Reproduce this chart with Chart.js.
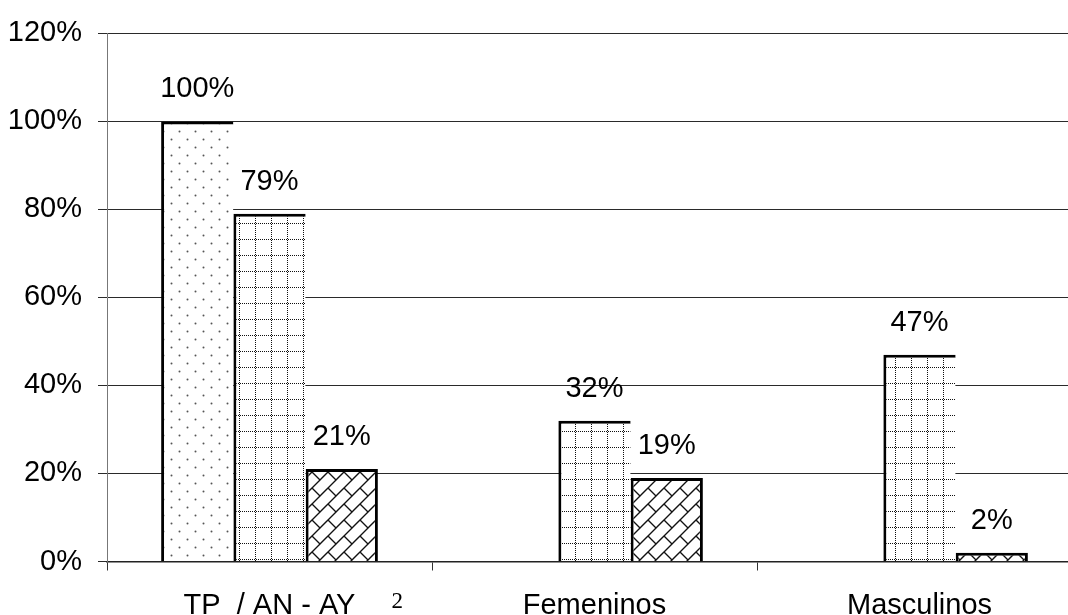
<!DOCTYPE html>
<html><head><meta charset="utf-8">
<script src="https://cdn.jsdelivr.net/npm/chart.js@4/dist/chart.umd.min.js"></script>
<style>html,body{margin:0;padding:0;background:#fff;overflow:hidden;width:1068px;height:615px}canvas{display:block}</style>
</head><body>
<canvas id="c" width="1083" height="615"></canvas>
<script>
const categories = ['TP  / AN - AY', 'Femeninos', 'Masculinos'];
const footnoteMark = '2';
const seriesNames = ['Serie 1', 'Serie 2', 'Serie 3'];
const seriesDotted = [100, null, null];
const seriesGrid = [79, 32, 47];
const seriesBrick = [21, 19, 2];
const yMin = 0, yMax = 120, yStep = 20;

const FONT = '"Liberation Sans", Arial, sans-serif';
const FSIZE = 29;

function makeTile(draw) {
  const c = document.createElement('canvas');
  c.width = 16; c.height = 16;
  const g = c.getContext('2d');
  g.fillStyle = '#fff'; g.fillRect(0, 0, 16, 16);
  draw(g);
  return document.getElementById('c').getContext('2d').createPattern(c, 'repeat');
}
const dotted = makeTile(g => {
  g.fillStyle = '#555';
  [[3.5, 3.5], [11.5, 11.5]].forEach(([x, y]) => { g.beginPath(); g.arc(x, y, 1.0, 0, Math.PI * 2); g.fill(); });
});
const gridPat = makeTile(g => {
  g.fillStyle = '#111';
  for (let i = 0; i < 16; i += 2) { g.fillRect(i, 15, 1, 1); g.fillRect(15, i, 1, 1); }
});
const brick = makeTile(g => {
  g.strokeStyle = '#111'; g.lineWidth = 1.4;
  g.beginPath();
  g.moveTo(-2, 18); g.lineTo(18, -2);
  g.moveTo(8, 8); g.lineTo(18, 18);
  g.moveTo(-2, -2); g.lineTo(0.5, 0.5);
  g.stroke();
});

const valueLabels = {
  id: 'valueLabels',
  afterDatasetsDraw(chart) {
    const ctx = chart.ctx; ctx.save();
    ctx.font = FSIZE + 'px ' + FONT; ctx.fillStyle = '#000';
    ctx.textAlign = 'center'; ctx.textBaseline = 'alphabetic';
    chart.data.datasets.forEach((ds, i) => {
      chart.getDatasetMeta(i).data.forEach((el, j) => {
        const v = ds.data[j];
        if (v == null) return;
        ctx.fillText(v + '%', el.x, el.y - 24);
      });
    });
    ctx.restore();
  }
};
const footnote = {
  id: 'footnote',
  afterDraw(chart) {
    const xs = chart.scales.x, ctx = chart.ctx; ctx.save();
    ctx.font = FSIZE + 'px ' + FONT;
    const w = ctx.measureText(categories[0]).width;
    ctx.font = '23px "Liberation Serif", "Times New Roman", serif';
    ctx.fillStyle = '#000'; ctx.textAlign = 'left'; ctx.textBaseline = 'alphabetic';
    ctx.fillText(footnoteMark, xs.getPixelForValue(0) + w / 2 + 36, xs.top + 46.5);
    ctx.restore();
  }
};

const edge = 3;
new Chart(document.getElementById('c'), {
  type: 'bar',
  data: {
    labels: categories,
    datasets: [
      { label: seriesNames[0], data: seriesDotted, backgroundColor: dotted, borderColor: '#000', borderWidth: { top: edge, left: edge, right: 0, bottom: 0 } },
      { label: seriesNames[1], data: seriesGrid, backgroundColor: gridPat, borderColor: '#000', borderWidth: { top: edge, left: edge, right: 0, bottom: 0 } },
      { label: seriesNames[2], data: seriesBrick, backgroundColor: brick, borderColor: '#000', borderWidth: { top: edge, left: edge, right: edge, bottom: 0 } }
    ]
  },
  options: {
    responsive: false,
    animation: false,
    devicePixelRatio: 1,
    layout: { padding: { top: 30, right: 1, left: 0, bottom: 0 } },
    datasets: { bar: { barPercentage: 1, categoryPercentage: 0.667 } },
    plugins: { legend: { display: false }, tooltip: { enabled: false } },
    scales: {
      x: {
        grid: { drawOnChartArea: false, drawTicks: true, tickLength: 9, color: '#333', offset: true },
        border: { color: '#222', width: 1.5 },
        ticks: { color: '#000', font: { family: FONT, size: FSIZE }, padding: 18, maxRotation: 0, autoSkip: false },
        afterFit(s) { s.height = 53.5; }
      },
      y: {
        min: yMin, max: yMax,
        grid: { color: '#2a2a2a', tickLength: 9 },
        border: { color: '#777' },
        ticks: { stepSize: yStep, color: '#000', font: { family: FONT, size: FSIZE }, padding: 16, callback: v => v + '%' },
        afterFit(s) { s.width = 107; }
      }
    }
  },
  plugins: [valueLabels, footnote]
});
</script>
</body></html>
